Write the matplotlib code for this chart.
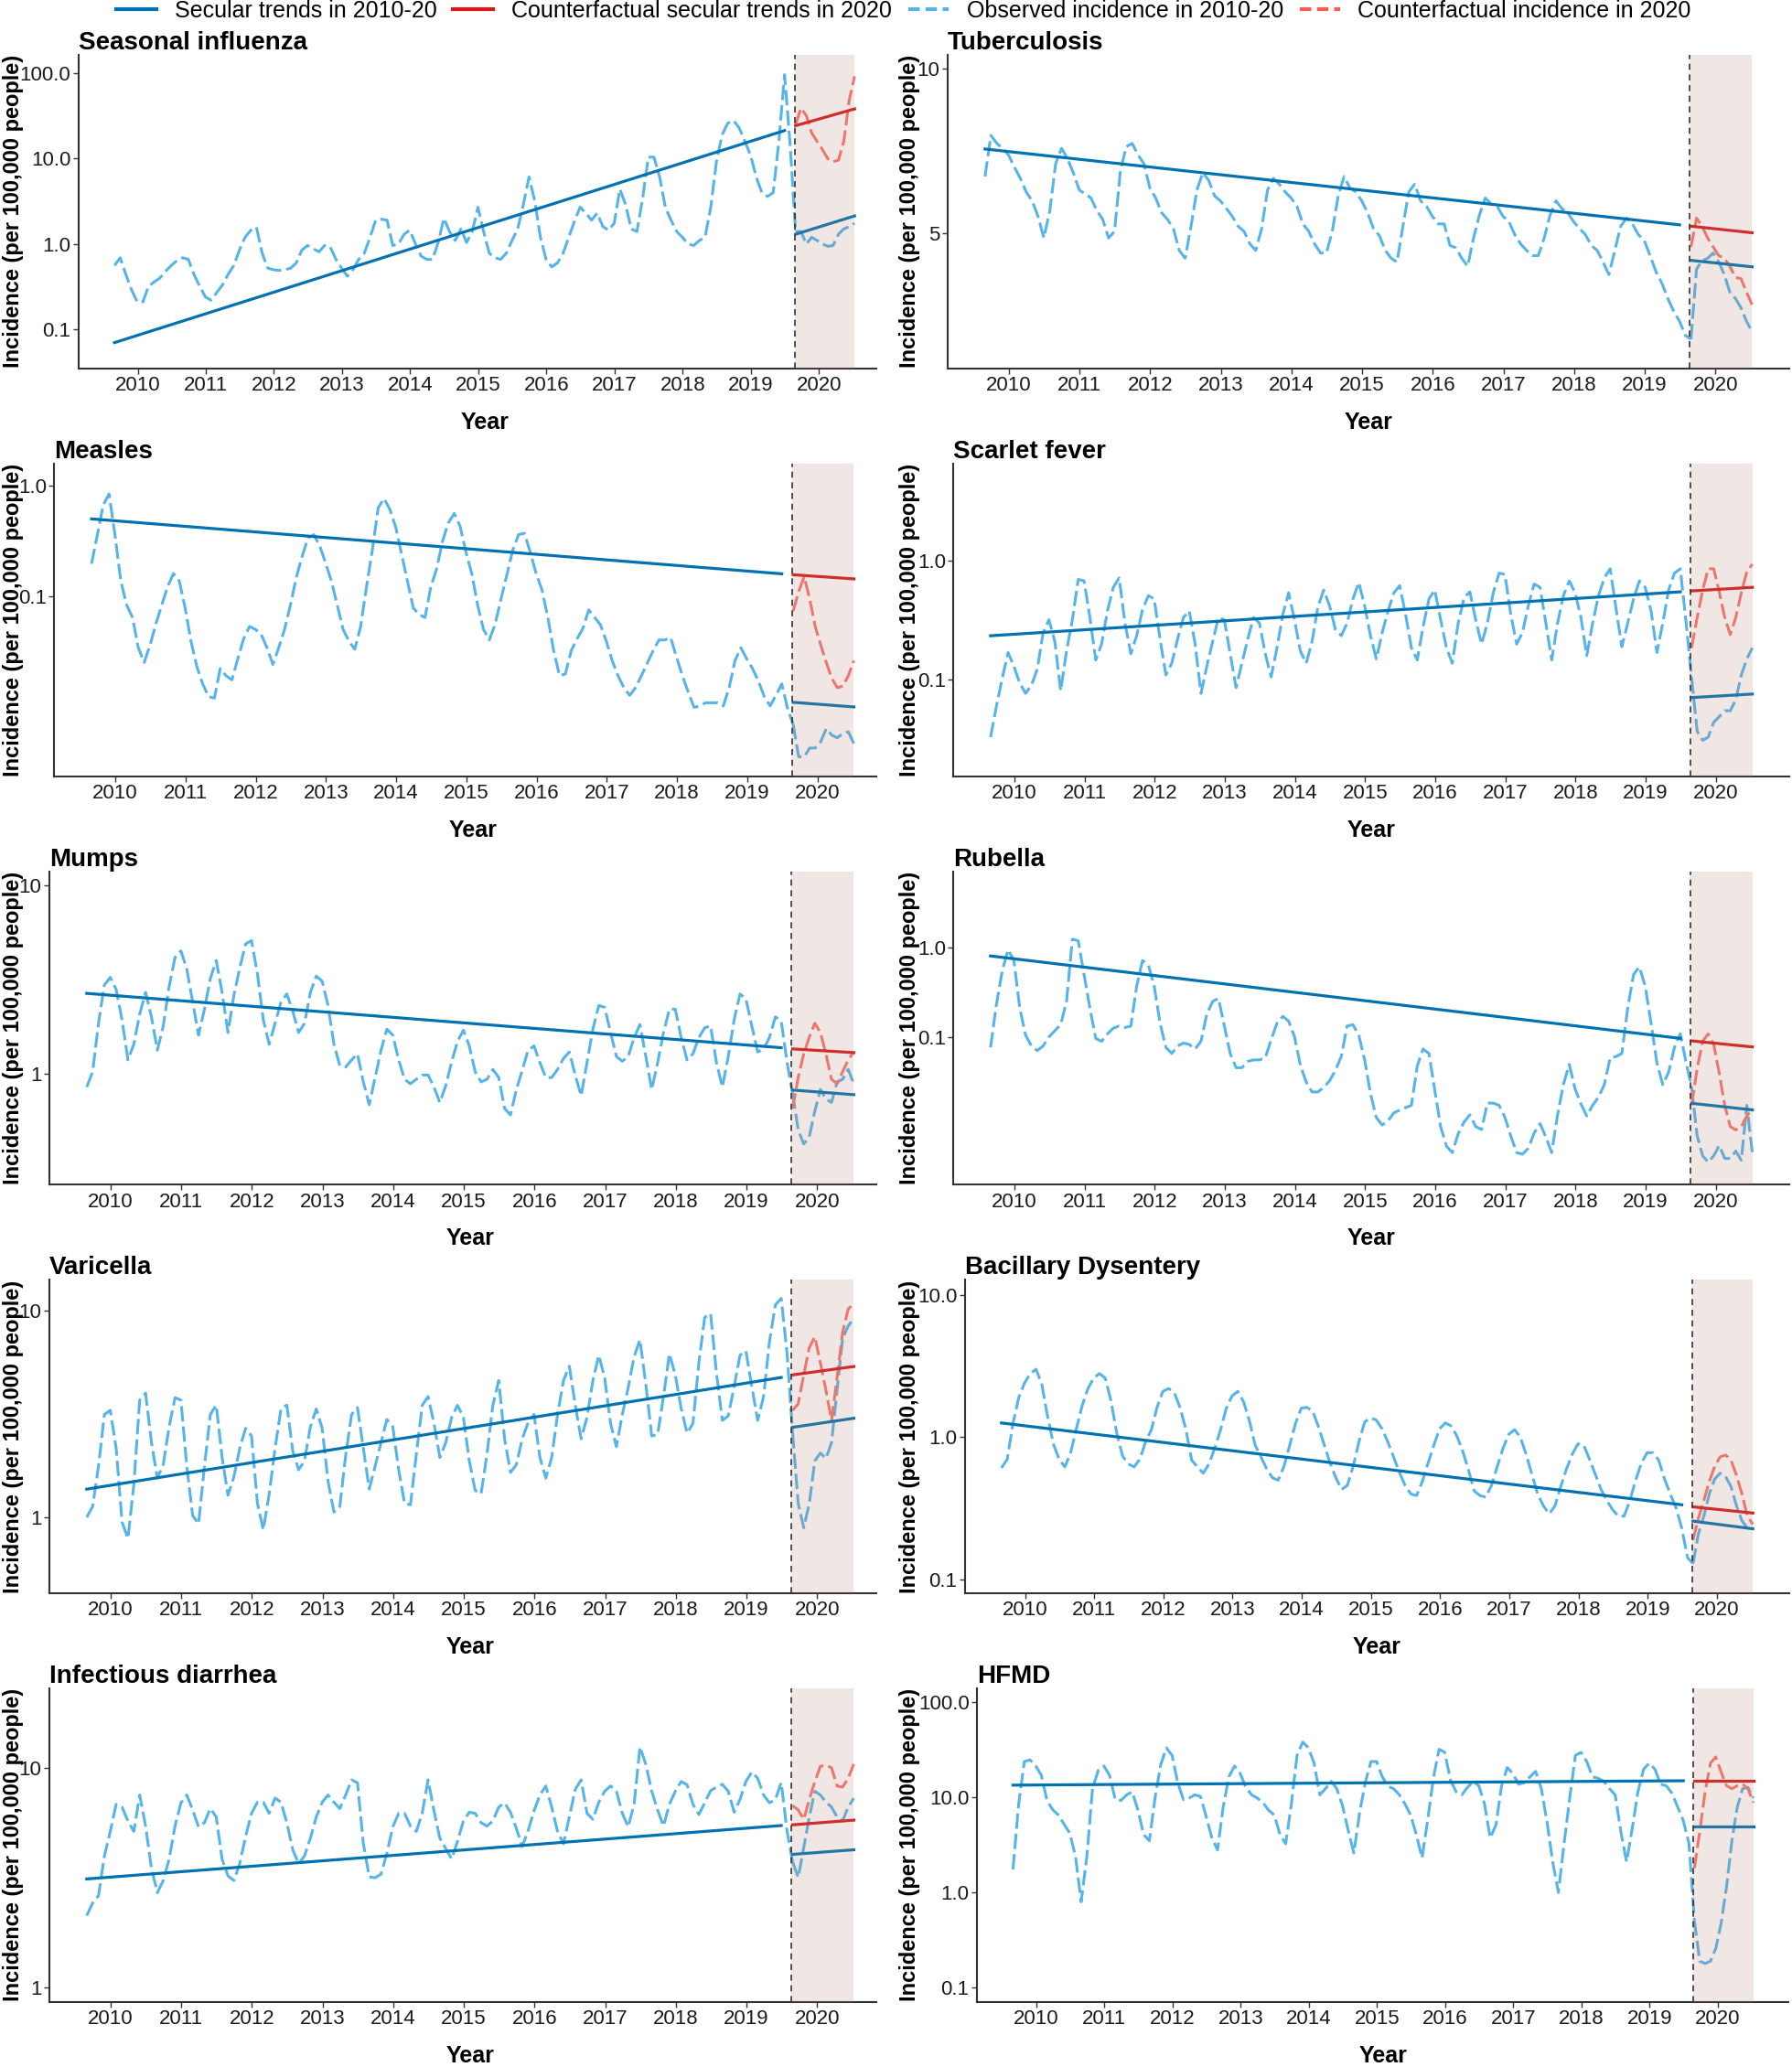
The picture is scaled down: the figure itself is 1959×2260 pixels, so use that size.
import numpy as np
import matplotlib
matplotlib.use("Agg")
import matplotlib.pyplot as plt
from matplotlib.lines import Line2D
from matplotlib.ticker import FixedLocator, FixedFormatter, NullLocator

plt.rcParams['font.family'] = ['Liberation Sans', 'DejaVu Sans']

# ---- data (incidence per 100,000 people) ----
# observed monthly incidence 2010-19 (120 months), 2020 (12 months), counterfactual 2020,
# secular trend 2010-19 [start, end], counterfactual trend 2020, secular trend 2020

influenza_obs = [
    0.56, 0.69, 0.44, 0.29, 0.21, 0.21, 0.32, 0.36, 0.40, 0.48, 0.56, 0.64,
    0.69, 0.66, 0.44, 0.32, 0.24, 0.22, 0.27, 0.33, 0.44, 0.56, 0.85, 1.2,
    1.45, 1.57, 0.78, 0.52, 0.50, 0.49, 0.50, 0.52, 0.60, 0.85, 0.96, 0.88,
    0.81, 0.96, 0.92, 0.66, 0.52, 0.42, 0.50, 0.66, 0.78, 1.2, 1.9, 1.95,
    1.9, 0.96, 1.0, 1.3, 1.45, 1.0, 0.72, 0.66, 0.66, 1.04, 2.0, 1.4,
    1.1, 1.5, 1.04, 1.4, 2.7, 1.4, 0.78, 0.69, 0.66, 0.78, 1.1, 1.5,
    2.9, 6.1, 3.2, 1.2, 0.66, 0.54, 0.60, 0.78, 1.2, 1.85, 2.7, 2.3,
    1.9, 2.3, 1.6, 1.45, 1.75, 4.4, 2.9, 1.5, 1.4, 3.4, 10.4, 10.4,
    6.1, 2.7, 1.9, 1.4, 1.2, 1.0, 0.96, 1.1, 1.2, 2.7, 9.2, 19,
    26, 28, 23, 16, 11, 6.1, 4.0, 3.6, 4.0, 16, 96, 14]
influenza_obs20 = [1.4, 1.4, 1.0, 1.2, 1.1, 1.0, 0.94, 0.96, 1.3, 1.5, 1.6, 1.75]
influenza_cf20 = [25, 39, 32, 20, 16, 12.8, 10, 9.2, 9.6, 16, 48, 92]
influenza_trend = [0.07, 21.3]
influenza_cf_trend = [24.3, 38.2]
influenza_trend20 = [1.3, 2.13]

tb_obs = [
    6.35, 7.55, 7.3, 7.15, 6.95, 6.6, 6.3, 5.95, 5.73, 5.37, 4.9, 5.5,
    6.7, 7.15, 6.85, 6.45, 6.0, 5.9, 5.8, 5.5, 5.3, 4.9, 5.04, 6.5,
    7.2, 7.3, 6.95, 6.7, 6.05, 5.8, 5.45, 5.3, 5.1, 4.65, 4.5, 5.15,
    6.0, 6.45, 6.25, 5.85, 5.73, 5.55, 5.37, 5.15, 5.04, 4.78, 4.65, 5.1,
    6.0, 6.3, 6.15, 5.95, 5.8, 5.6, 5.2, 5.04, 4.78, 4.6, 4.6, 5.04,
    5.85, 6.35, 6.05, 5.95, 5.73, 5.45, 5.1, 4.95, 4.65, 4.5, 4.43, 5.15,
    5.95, 6.15, 5.73, 5.6, 5.37, 5.2, 5.2, 4.75, 4.7, 4.5, 4.35, 4.9,
    5.4, 5.8, 5.65, 5.6, 5.37, 5.25, 4.97, 4.78, 4.65, 4.55, 4.55, 4.9,
    5.4, 5.73, 5.55, 5.45, 5.25, 5.1, 4.97, 4.75, 4.65, 4.43, 4.2, 4.65,
    5.15, 5.33, 5.2, 4.97, 4.85, 4.55, 4.25, 4.05, 3.8, 3.6, 3.45, 3.25]
tb_obs20 = [3.2, 4.3, 4.45, 4.5, 4.6, 4.43, 4.2, 3.9, 3.8, 3.65, 3.45, 3.3]
tb_cf20 = [4.72, 5.33, 5.15, 4.9, 4.72, 4.55, 4.5, 4.35, 4.15, 4.13, 3.9, 3.7]
tb_trend = [7.13, 5.18]
tb_cf_trend = [5.15, 5.01]
tb_trend20 = [4.46, 4.34]

measles_obs = [
    0.196, 0.36, 0.67, 0.84, 0.36, 0.137, 0.083, 0.064, 0.034, 0.025, 0.036, 0.056,
    0.083, 0.121, 0.16, 0.137, 0.078, 0.039, 0.023, 0.016, 0.0123, 0.0119, 0.022, 0.019,
    0.0174, 0.027, 0.041, 0.053, 0.05, 0.045, 0.034, 0.024, 0.034, 0.05, 0.083, 0.147,
    0.229, 0.335, 0.36, 0.286, 0.2, 0.137, 0.083, 0.05, 0.039, 0.033, 0.053, 0.121,
    0.26, 0.63, 0.765, 0.61, 0.42, 0.24, 0.137, 0.078, 0.068, 0.064, 0.121, 0.177,
    0.314, 0.46, 0.56, 0.43, 0.25, 0.16, 0.083, 0.05, 0.04, 0.056, 0.094, 0.156,
    0.26, 0.36, 0.37, 0.25, 0.16, 0.114, 0.064, 0.032, 0.019, 0.0197, 0.032, 0.041,
    0.051, 0.075, 0.064, 0.055, 0.039, 0.026, 0.019, 0.0148, 0.0126, 0.0148, 0.019, 0.0247,
    0.032, 0.04, 0.04, 0.042, 0.028, 0.019, 0.0135, 0.0098, 0.0101, 0.0108, 0.0108, 0.0108,
    0.0101, 0.0148, 0.026, 0.034, 0.027, 0.022, 0.017, 0.0123, 0.0101, 0.0126, 0.016, 0.0095]
measles_obs20 = [0.0069, 0.0035, 0.0035, 0.0042, 0.0042, 0.0048, 0.0063, 0.0055, 0.0052, 0.0057, 0.0059, 0.0046]
measles_cf20 = [0.073, 0.11, 0.15, 0.094, 0.053, 0.036, 0.025, 0.018, 0.0148, 0.0153, 0.019, 0.026]
measles_trend = [0.5, 0.159]
measles_cf_trend = [0.156, 0.143]
measles_trend20 = [0.0109, 0.0099]

scarlet_obs = [
    0.033, 0.06, 0.103, 0.17, 0.13, 0.094, 0.077, 0.09, 0.123, 0.25, 0.32, 0.21,
    0.081, 0.175, 0.32, 0.7, 0.68, 0.335, 0.147, 0.2, 0.38, 0.6, 0.72, 0.3,
    0.166, 0.235, 0.39, 0.51, 0.48, 0.22, 0.11, 0.138, 0.22, 0.335, 0.38, 0.2,
    0.077, 0.13, 0.21, 0.335, 0.32, 0.166, 0.086, 0.138, 0.22, 0.335, 0.3, 0.166,
    0.106, 0.186, 0.355, 0.54, 0.32, 0.175, 0.138, 0.21, 0.41, 0.57, 0.42, 0.265,
    0.235, 0.3, 0.48, 0.66, 0.42, 0.235, 0.15, 0.25, 0.38, 0.54, 0.62, 0.355,
    0.186, 0.147, 0.28, 0.48, 0.57, 0.32, 0.186, 0.138, 0.3, 0.49, 0.55, 0.32,
    0.2, 0.3, 0.54, 0.79, 0.77, 0.355, 0.2, 0.25, 0.42, 0.64, 0.6, 0.3,
    0.147, 0.3, 0.51, 0.68, 0.54, 0.335, 0.16, 0.3, 0.51, 0.72, 0.86, 0.4,
    0.19, 0.3, 0.48, 0.68, 0.6, 0.38, 0.17, 0.3, 0.57, 0.79, 0.86, 0.3]
scarlet_obs20 = [0.103, 0.037, 0.031, 0.033, 0.044, 0.049, 0.055, 0.055, 0.068, 0.11, 0.15, 0.186]
scarlet_cf20 = [0.186, 0.335, 0.57, 0.86, 0.86, 0.55, 0.335, 0.24, 0.335, 0.54, 0.81, 0.94]
scarlet_trend = [0.235, 0.55]
scarlet_cf_trend = [0.56, 0.6]
scarlet_trend20 = [0.071, 0.076]

mumps_obs = [
    0.845, 1.02, 1.85, 2.96, 3.25, 2.8, 1.93, 1.18, 1.43, 2.07, 2.7, 2.0,
    1.33, 1.79, 2.9, 4.15, 4.5, 3.6, 2.4, 1.6, 2.2, 3.2, 4.0, 2.7,
    1.65, 2.6, 3.65, 4.9, 5.1, 3.4, 1.93, 1.43, 1.85, 2.4, 2.65, 2.15,
    1.65, 1.85, 2.7, 3.3, 3.1, 2.3, 1.43, 1.1, 1.08, 1.18, 1.27, 0.9,
    0.68, 0.95, 1.33, 1.72, 1.6, 1.18, 0.93, 0.88, 0.93, 0.98, 0.98, 0.845,
    0.70, 0.86, 1.15, 1.48, 1.7, 1.4, 1.02, 0.9, 0.93, 1.05, 0.95, 0.65,
    0.6, 0.82, 1.04, 1.33, 1.4, 1.14, 0.95, 0.95, 1.05, 1.2, 1.3, 0.98,
    0.76, 1.14, 1.72, 2.3, 2.25, 1.65, 1.23, 1.16, 1.23, 1.55, 1.82, 1.23,
    0.82, 1.14, 1.65, 2.2, 2.2, 1.55, 1.18, 1.27, 1.55, 1.75, 1.79, 1.14,
    0.845, 1.23, 1.93, 2.65, 2.5, 1.79, 1.3, 1.35, 1.55, 2.0, 1.9, 1.14]
mumps_obs20 = [0.78, 0.5, 0.42, 0.46, 0.63, 0.82, 0.73, 0.7, 0.9, 0.93, 1.05, 0.88]
mumps_cf20 = [0.65, 0.95, 1.27, 1.56, 1.85, 1.65, 1.27, 0.93, 0.88, 1.02, 1.18, 1.3]
mumps_trend = [2.67, 1.37]
mumps_cf_trend = [1.35, 1.29]
mumps_trend20 = [0.815, 0.77]

rubella_obs = [
    0.076, 0.23, 0.55, 0.95, 0.72, 0.21, 0.104, 0.079, 0.07, 0.079, 0.1, 0.117,
    0.137, 0.25, 1.25, 1.2, 0.5, 0.21, 0.096, 0.089, 0.108, 0.125, 0.132, 0.127,
    0.132, 0.37, 0.72, 0.64, 0.37, 0.142, 0.076, 0.065, 0.079, 0.085, 0.082, 0.073,
    0.089, 0.18, 0.25, 0.27, 0.132, 0.065, 0.045, 0.045, 0.053, 0.055, 0.055, 0.058,
    0.093, 0.142, 0.17, 0.15, 0.1, 0.048, 0.031, 0.024, 0.024, 0.027, 0.032, 0.042,
    0.06, 0.132, 0.137, 0.104, 0.055, 0.023, 0.0124, 0.0102, 0.0114, 0.014, 0.015, 0.016,
    0.017, 0.047, 0.073, 0.065, 0.025, 0.0098, 0.0059, 0.005, 0.0081, 0.011, 0.0133, 0.0098,
    0.0091, 0.018, 0.018, 0.017, 0.0124, 0.0077, 0.005, 0.0048, 0.0056, 0.0083, 0.0106, 0.0075,
    0.005, 0.0133, 0.029, 0.049, 0.026, 0.0176, 0.0129, 0.017, 0.021, 0.029, 0.058, 0.06,
    0.065, 0.21, 0.5, 0.61, 0.37, 0.142, 0.051, 0.029, 0.04, 0.076, 0.108, 0.051]
rubella_obs20 = [0.027, 0.0077, 0.0046, 0.0039, 0.0046, 0.006, 0.0043, 0.0043, 0.0052, 0.0041, 0.017, 0.005]
rubella_cf20 = [0.017, 0.044, 0.089, 0.108, 0.082, 0.039, 0.017, 0.0098, 0.009, 0.0098, 0.0129, 0.0157]
rubella_trend = [0.81, 0.096]
rubella_cf_trend = [0.09, 0.077]
rubella_trend20 = [0.0179, 0.0151]

varicella_obs = [
    1.0, 1.13, 1.77, 3.15, 3.3, 2.16, 0.95, 0.79, 1.44, 3.7, 4.0, 2.3,
    1.55, 1.8, 2.75, 3.8, 3.7, 1.77, 1.02, 0.93, 1.77, 3.15, 3.5, 1.95,
    1.28, 1.57, 2.16, 2.7, 2.48, 1.17, 0.87, 1.3, 2.16, 3.35, 3.5, 2.1,
    1.7, 1.88, 2.75, 3.35, 2.7, 1.5, 1.06, 1.13, 2.0, 3.15, 3.4, 2.16,
    1.37, 1.77, 2.3, 2.98, 2.75, 1.7, 1.17, 1.15, 2.02, 3.49, 3.85, 2.85,
    1.95, 2.3, 3.05, 3.49, 3.05, 1.88, 1.35, 1.3, 2.02, 3.49, 4.6, 2.4,
    1.65, 1.8, 2.4, 2.88, 3.15, 1.95, 1.55, 1.95, 3.15, 4.6, 5.4, 3.5,
    2.4, 3.05, 4.6, 6.1, 4.75, 2.85, 2.2, 3.15, 4.25, 6.0, 7.25, 4.4,
    2.48, 2.52, 3.85, 6.2, 4.9, 3.37, 2.56, 2.85, 5.6, 9.3, 9.7, 5.0,
    2.95, 3.1, 4.3, 6.1, 6.4, 4.3, 2.95, 3.85, 7.1, 10.7, 11.5, 6.2]
varicella_obs20 = [2.56, 1.17, 0.89, 1.17, 1.88, 2.05, 1.93, 2.3, 4.13, 7.35, 8.45, 9.2]
varicella_cf20 = [3.3, 3.55, 4.9, 6.65, 7.5, 5.6, 4.13, 2.94, 4.75, 7.9, 10.2, 10.9]
varicella_trend = [1.37, 4.76]
varicella_cf_trend = [4.9, 5.38]
varicella_trend20 = [2.73, 3.02]

dysentery_obs = [
    0.61, 0.7, 1.25, 1.9, 2.4, 2.8, 3.0, 2.35, 1.4, 0.9, 0.7, 0.62,
    0.78, 1.15, 1.67, 2.2, 2.6, 2.8, 2.6, 1.8, 1.07, 0.74, 0.65, 0.62,
    0.7, 0.93, 1.13, 1.63, 2.1, 2.2, 2.05, 1.6, 1.13, 0.69, 0.62, 0.56,
    0.65, 0.84, 1.13, 1.6, 1.95, 2.1, 1.77, 1.31, 0.88, 0.73, 0.6, 0.52,
    0.5, 0.625, 0.88, 1.25, 1.6, 1.62, 1.52, 1.18, 0.88, 0.66, 0.52, 0.43,
    0.46, 0.625, 0.93, 1.28, 1.37, 1.32, 1.15, 0.93, 0.73, 0.57, 0.46, 0.4,
    0.39, 0.49, 0.66, 0.88, 1.15, 1.26, 1.2, 1.02, 0.8, 0.59, 0.42, 0.39,
    0.38, 0.46, 0.625, 0.84, 1.05, 1.13, 1.0, 0.76, 0.55, 0.4, 0.33, 0.29,
    0.33, 0.45, 0.6, 0.76, 0.9, 0.88, 0.7, 0.55, 0.43, 0.36, 0.31, 0.28,
    0.28, 0.36, 0.5, 0.66, 0.78, 0.78, 0.69, 0.51, 0.4, 0.32, 0.23, 0.143]
dysentery_obs20 = [0.13, 0.21, 0.28, 0.4, 0.51, 0.56, 0.53, 0.45, 0.33, 0.26, 0.23, 0.23]
dysentery_cf20 = [0.19, 0.27, 0.36, 0.49, 0.625, 0.73, 0.75, 0.69, 0.54, 0.4, 0.28, 0.245]
dysentery_trend = [1.26, 0.336]
dysentery_cf_trend = [0.325, 0.294]
dysentery_trend20 = [0.258, 0.228]

diarrhea_obs = [
    2.13, 2.43, 2.63, 3.98, 5.15, 6.85, 6.65, 5.75, 5.15, 7.55, 5.45, 3.5,
    2.71, 3.08, 3.85, 5.45, 6.95, 7.55, 6.45, 5.4, 5.65, 6.55, 6.0, 3.85,
    3.23, 3.08, 3.68, 4.9, 6.23, 7.0, 7.0, 6.23, 7.31, 7.0, 5.65, 4.25,
    3.68, 3.98, 4.8, 6.0, 7.0, 7.55, 7.0, 6.55, 7.55, 8.85, 8.58, 4.53,
    3.2, 3.17, 3.29, 4.1, 5.4, 6.23, 6.23, 5.45, 5.15, 6.23, 8.85, 6.4,
    4.8, 4.3, 3.86, 4.65, 5.75, 6.3, 6.23, 5.65, 5.45, 5.75, 6.65, 6.95,
    6.3, 5.31, 4.4, 5.2, 6.4, 7.55, 8.3, 6.65, 5.15, 4.53, 6.0, 8.0,
    8.85, 6.23, 5.85, 7.0, 7.85, 8.3, 7.85, 6.23, 5.4, 6.85, 12.5, 10.4,
    7.85, 6.45, 5.45, 6.85, 7.85, 8.7, 8.4, 6.85, 6.15, 6.95, 7.9, 8.2,
    8.45, 7.85, 6.3, 7.2, 8.7, 9.6, 9.0, 7.55, 6.95, 7.2, 8.6, 5.15]
diarrhea_obs20 = [3.74, 3.18, 4.35, 6.0, 7.85, 7.55, 7.0, 6.65, 6.0, 5.75, 6.65, 7.3]
diarrhea_cf20 = [6.75, 6.45, 5.85, 7.2, 8.7, 10.2, 10.3, 10.05, 8.3, 8.2, 9.0, 10.45]
diarrhea_trend = [3.13, 5.48]
diarrhea_cf_trend = [5.52, 5.8]
diarrhea_trend20 = [4.05, 4.25]

hfmd_obs = [
    1.75, 8.5, 23.7, 24.7, 21.3, 17, 9.15, 7.4, 6.5, 5.2, 4.2, 2.4,
    0.8, 2.4, 12.3, 19.1, 21.3, 17, 9.45, 9.25, 10.6, 11.4, 7.3, 4.05,
    3.5, 9.8, 22, 33, 27.5, 14.2, 9.45, 9.8, 10.6, 10.2, 6.3, 3.75,
    2.8, 7.9, 16.4, 21.3, 17.7, 12.7, 10.6, 9.8, 8.8, 7.3, 6.5, 4.05,
    3.25, 8.5, 27.5, 38, 33, 22.8, 10.6, 12.3, 14.7, 12.3, 8.15, 4.5,
    2.6, 6.8, 14.2, 23.7, 23.7, 16.4, 13, 12.3, 10.6, 8.5, 6.5, 4.05,
    2.3, 5.8, 15.9, 31.9, 29.6, 15.2, 11.4, 10.6, 12.7, 14.7, 13.2, 8.5,
    3.75, 5.1, 13.2, 20.5, 17.7, 13.7, 14.2, 16.4, 18.7, 12.3, 5.5, 2.1,
    1.0, 3.25, 9.8, 27.5, 29.6, 23.7, 16.4, 15.8, 14.7, 12.3, 10.6, 4.35,
    2.1, 4.7, 11.4, 19.7, 22.8, 19.7, 13.7, 13.2, 11, 7.9, 5.65, 3.25]
hfmd_obs20 = [0.51, 0.19, 0.18, 0.19, 0.26, 0.48, 1.15, 3.5, 7.9, 12.3, 12.7, 9.8]
hfmd_cf20 = [1.8, 4.35, 11.4, 22.8, 26.5, 18.3, 13.2, 12.3, 13.2, 13.7, 12.3, 8.8]
hfmd_trend = [13.4, 14.9]
hfmd_cf_trend = [14.9, 14.9]
hfmd_trend20 = [4.98, 4.98]

titles = ["Seasonal influenza", "Tuberculosis", "Measles", "Scarlet fever", "Mumps",
          "Rubella", "Varicella", "Bacillary Dysentery", "Infectious diarrhea", "HFMD"]
year_ticks = list(range(2010, 2021))
legend_labels = ["Secular trends in 2010-20", "Counterfactual secular trends in 2020",
                 "Observed incidence in 2010-20", "Counterfactual incidence in 2020"]

# ---- layout (pixels) ----
W, H = 1959, 2260
BLUE = '#0072B2'
SKY = '#56B4E9'
RED = '#D7191C'
SALMON = '#F8766D'
SHADE = '#B48273'
AX = '#333333'
DASH = (0, (5.5, 1.8))

row_top = [60, 506.7, 953, 1399.3, 1846]
row_bot = [402.7, 849, 1295.3, 1742, 2188.7]

panels = [
    (influenza_obs, influenza_obs20, influenza_cf20, influenza_trend, influenza_cf_trend, influenza_trend20,
     (0.035, 164), [0.1, 1, 10, 100], ['0.1', '1.0', '10.0', '100.0'], 0, 0, 85.7),
    (tb_obs, tb_obs20, tb_cf20, tb_trend, tb_cf_trend, tb_trend20,
     (2.83, 10.6), [5, 10], ['5', '10'], 1, 0, 1035.9),
    (measles_obs, measles_obs20, measles_cf20, measles_trend, measles_cf_trend, measles_trend20,
     (0.00232, 1.59), [0.1, 1], ['0.1', '1.0'], 0, 1, 59.4),
    (scarlet_obs, scarlet_obs20, scarlet_cf20, scarlet_trend, scarlet_cf_trend, scarlet_trend20,
     (0.0154, 6.61), [0.1, 1], ['0.1', '1.0'], 1, 1, 1042.2),
    (mumps_obs, mumps_obs20, mumps_cf20, mumps_trend, mumps_cf_trend, mumps_trend20,
     (0.255, 11.9), [1, 10], ['1', '10'], 0, 2, 53.9),
    (rubella_obs, rubella_obs20, rubella_cf20, rubella_trend, rubella_cf_trend, rubella_trend20,
     (0.00218, 7.18), [0.1, 1], ['0.1', '1.0'], 1, 2, 1042.2),
    (varicella_obs, varicella_obs20, varicella_cf20, varicella_trend, varicella_cf_trend, varicella_trend20,
     (0.429, 14.15), [1, 10], ['1', '10'], 0, 3, 53.9),
    (dysentery_obs, dysentery_obs20, dysentery_cf20, dysentery_trend, dysentery_cf_trend, dysentery_trend20,
     (0.0805, 12.73), [0.1, 1, 10], ['0.1', '1.0', '10.0'], 1, 3, 1054.7),
    (diarrhea_obs, diarrhea_obs20, diarrhea_cf20, diarrhea_trend, diarrhea_cf_trend, diarrhea_trend20,
     (0.863, 23.1), [1, 10], ['1', '10'], 0, 4, 53.9),
    (hfmd_obs, hfmd_obs20, hfmd_cf20, hfmd_trend, hfmd_cf_trend, hfmd_trend20,
     (0.0713, 139), [0.1, 1, 10, 100], ['0.1', '1.0', '10.0', '100.0'], 1, 4, 1067.9),
]

t_obs = 2009.66 + np.arange(120) / 12
t_2020 = np.linspace(2019.655, 2020.52, 12)
covid_start, covid_end = 2019.64, 2020.52

fig = plt.figure(figsize=(W / 100, H / 100), dpi=100)

for title, p in zip(titles, panels):
    obs, obs20, cf20, trend, cf_trend, trend20, ylim, yt, ytl, col, row, x0 = p
    if col == 0:
        x1, xmax, full_right, ylab_x = 958, 2020.84, 974, 15
    else:
        x1, xmax, full_right, ylab_x = 1955.5, 2021.04, 1955.5, 995
    top, bot = row_top[row], row_bot[row]
    ax = fig.add_axes([x0 / W, 1 - bot / H, (x1 - x0) / W, (bot - top) / H])
    ax.set_yscale('log')

    ax.plot(np.append(t_obs, t_2020[0]), np.append(obs, obs20[0]), color=SKY, lw=2.2, ls=DASH)
    ax.plot(t_2020, obs20, color=SKY, lw=2.2, ls=DASH)
    ax.plot(t_2020, cf20, color=SALMON, lw=2.2, ls=DASH)
    ax.plot([t_obs[0], t_obs[118]], trend, color=BLUE, lw=2.3)
    ax.plot([t_2020[0], t_2020[-1]], trend20, color=BLUE, lw=2.3)
    ax.plot([t_2020[0], t_2020[-1]], cf_trend, color=RED, lw=2.3)
    ax.axvspan(covid_start, covid_end, color=SHADE, alpha=0.2, lw=0, zorder=5)
    ax.axvline(covid_start, color=AX, lw=1.2, ls=(0, (4, 3)), zorder=6)

    ax.set_xlim(2009.13, xmax)
    ax.set_ylim(*ylim)
    ax.xaxis.set_major_locator(FixedLocator(year_ticks))
    ax.xaxis.set_major_formatter(FixedFormatter([str(y) for y in year_ticks]))
    ax.yaxis.set_major_locator(FixedLocator(yt))
    ax.yaxis.set_major_formatter(FixedFormatter(ytl))
    ax.yaxis.set_minor_locator(NullLocator())
    ax.tick_params(axis='both', length=4, width=1, color=AX, labelsize=16,
                   labelcolor='#1a1a1a', pad=2)
    for s in ['top', 'right']:
        ax.spines[s].set_visible(False)
    for s in ['left', 'bottom']:
        ax.spines[s].set_color(AX)
        ax.spines[s].set_linewidth(1.5)

    ax.set_title(title, loc='left', fontsize=20, fontweight='bold', pad=4)
    fig.text(ylab_x / W, 1 - (top + bot) / 2 / H, 'Incidence (per 100,000 people)',
             rotation=90, ha='center', va='center', fontsize=17, fontweight='bold')
    fig.text((x0 + full_right) / 2 / W, 1 - (bot + 59) / H, 'Year',
             ha='center', va='center', fontsize=18, fontweight='bold')

handles = [Line2D([], [], color=BLUE, lw=3),
           Line2D([], [], color=RED, lw=3),
           Line2D([], [], color=SKY, lw=3, ls=(0, (3, 1.5))),
           Line2D([], [], color='#FF5A50', lw=3, ls=(0, (3, 1.5)))]
fig.legend(handles, legend_labels, loc='center', bbox_to_anchor=(988 / W, 1 - 12 / H),
           ncol=4, frameon=False, fontsize=18, handlelength=1.76, handletextpad=0.8,
           columnspacing=0.7, borderpad=0)

fig.savefig('out.png', dpi=100, facecolor='white')
